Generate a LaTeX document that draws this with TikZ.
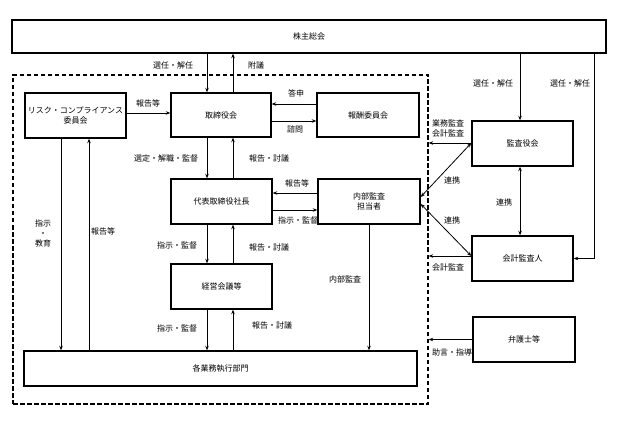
\documentclass[tikz,border=0pt]{standalone}
\usepackage{fontspec}
\newfontfamily\jp{Noto Sans CJK JP}
\usetikzlibrary{arrows.meta}
\begin{document}
\begin{tikzpicture}[x=1pt,y=-1pt,
  font=\jp\fontsize{8}{10}\selectfont,
  box/.style={draw, line width=1.4pt, inner sep=0pt, align=center, anchor=center},
  arr/.style={-{Stealth[length=4.5pt,width=3.5pt]}, line width=0.8pt},
  darr/.style={{Stealth[length=4.5pt,width=3.5pt]}-{Stealth[length=4.5pt,width=3.5pt]}, line width=0.8pt},
  lbl/.style={inner sep=0pt, anchor=center, align=center}]
\useasboundingbox (0,0) rectangle (617,427);
% group
\node[draw, line width=1.3pt, dash pattern=on 4.5pt off 2.5pt, minimum width=415pt, minimum height=329pt, inner sep=0pt] (grp) at (220.5,239.5) {};
% boxes
\node[box, minimum width=594pt, minimum height=33pt] (soukai) at (309,36.5) {株主総会};
\node[box, minimum width=101pt, minimum height=45pt] (risk) at (75.5,115.5) {リスク・コンプライアンス\\委員会};
\node[box, minimum width=100pt, minimum height=44pt] (tori) at (221,115) {取締役会};
\node[box, minimum width=102pt, minimum height=44pt] (houshu) at (368,115) {報酬委員会};
\node[box, minimum width=101pt, minimum height=45pt] (kansayaku) at (522.5,143.5) {監査役会};
\node[box, minimum width=101pt, minimum height=45pt] (daihyo) at (221.5,201.5) {代表取締役社長};
\node[box, minimum width=102pt, minimum height=45pt] (naibu) at (369,201.5) {内部監査\\担当者};
\node[box, minimum width=101pt, minimum height=45pt] (keiei) at (221.5,286.5) {経営会議等};
\node[box, minimum width=101pt, minimum height=45pt] (kaikei) at (522.5,258.5) {会計監査人};
\node[box, minimum width=102pt, minimum height=45pt] (bengoshi) at (524,339.5) {弁護士等};
\node[box, minimum width=393pt, minimum height=35pt] (gyomu) at (220.5,368.5) {各業務執行部門};
% helper coordinates
\coordinate (xa) at (207,0);
\coordinate (xb) at (233,0);
\coordinate (xr1) at (61,0);
\coordinate (xr2) at (89,0);
\coordinate (xk) at (520,0);
\coordinate (xo) at (594,0);
\coordinate (xn) at (369,0);
\coordinate (yR) at (0,113);
\coordinate (yA) at (0,104);
\coordinate (yB) at (0,121);
\coordinate (yC) at (0,193);
\coordinate (yD) at (0,210);
\coordinate (yK1) at (0,143);
\coordinate (yN1) at (0,197);
\coordinate (yN2) at (0,204);
\coordinate (yK2) at (0,256);
% vertical chain
\draw[arr] (soukai.south -| xa) -- (tori.north -| xa);
\draw[arr] (tori.north -| xb) -- (soukai.south -| xb);
\draw[arr] (tori.south -| xa) -- (daihyo.north -| xa);
\draw[arr] (daihyo.north -| xb) -- (tori.south -| xb);
\draw[arr] (daihyo.south -| xa) -- (keiei.north -| xa);
\draw[arr] (keiei.north -| xb) -- (daihyo.south -| xb);
\draw[arr] (keiei.south -| xa) -- (gyomu.north -| xa);
\draw[arr] (gyomu.north -| xb) -- (keiei.south -| xb);
% risk
\draw[arr] (risk.south -| xr1) -- (gyomu.north -| xr1);
\draw[arr] (gyomu.north -| xr2) -- (risk.south -| xr2);
\draw[arr] (risk.east |- yR) -- (tori.west |- yR);
% houshu
\draw[arr] (houshu.west |- yA) -- (tori.east |- yA);
\draw[arr] (tori.east |- yB) -- (houshu.west |- yB);
% naibu
\draw[arr] (naibu.west |- yC) -- (daihyo.east |- yC);
\draw[arr] (daihyo.east |- yD) -- (naibu.west |- yD);
\draw[arr] (naibu.south -| xn) -- (gyomu.north -| xn);
% right side
\draw[arr] (soukai.south -| xk) -- (kansayaku.north -| xk);
\draw[arr] (soukai.south -| xo) |- (kaikei.east);
\draw[darr] (kansayaku.south -| xk) -- (kaikei.north -| xk);
\draw[arr] (kansayaku.west |- yK1) -- (grp.east |- yK1);
\draw[darr] (kansayaku.west |- yK1) -- (naibu.east |- yN1);
\draw[darr] (naibu.east |- yN2) -- (kaikei.west |- yK2);
\draw[arr] (kaikei.west |- yK2) -- (grp.east |- yK2);
\draw[arr] (bengoshi.west) -- (grp.east |- bengoshi.west);
% labels
\node[lbl] (l1) at (173,65.5) {選任・解任};
\node[lbl] (l2) at (256,65.5) {附議};
\node[lbl] (l3) at (148,103) {報告等};
\node[lbl] (l4) at (296,93) {答申};
\node[lbl] (l5) at (295,129) {諮問};
\node[lbl] (l6) at (166,158) {選定・解職・監督};
\node[lbl] (l7) at (269,158) {報告・討議};
\node[lbl] (l8) at (297,183) {報告等};
\node[lbl] (l9) at (298,220) {指示・監督};
\node[lbl] (l10) at (177,245) {指示・監督};
\node[lbl] (l11) at (269,247) {報告・討議};
\node[lbl] (l12) at (177,328) {指示・監督};
\node[lbl] (l13) at (272,325) {報告・討議};
\node[lbl] (l14) at (43,233) {指示\\・\\教育};
\node[lbl] (l15) at (103,231) {報告等};
\node[lbl] (l16) at (345,279) {内部監査};
\node[lbl] (l17) at (493,83) {選任・解任};
\node[lbl] (l18) at (570,83) {選任・解任};
\node[lbl] (l19) at (448,128.5) {業務監査\\会計監査};
\node[lbl] (l20) at (452,180) {連携};
\node[lbl] (l21) at (452,220) {連携};
\node[lbl] (l22) at (504,202) {連携};
\node[lbl] (l23) at (448,267) {会計監査};
\node[lbl] (l24) at (452,352) {助言・指導};
\end{tikzpicture}
\end{document}
